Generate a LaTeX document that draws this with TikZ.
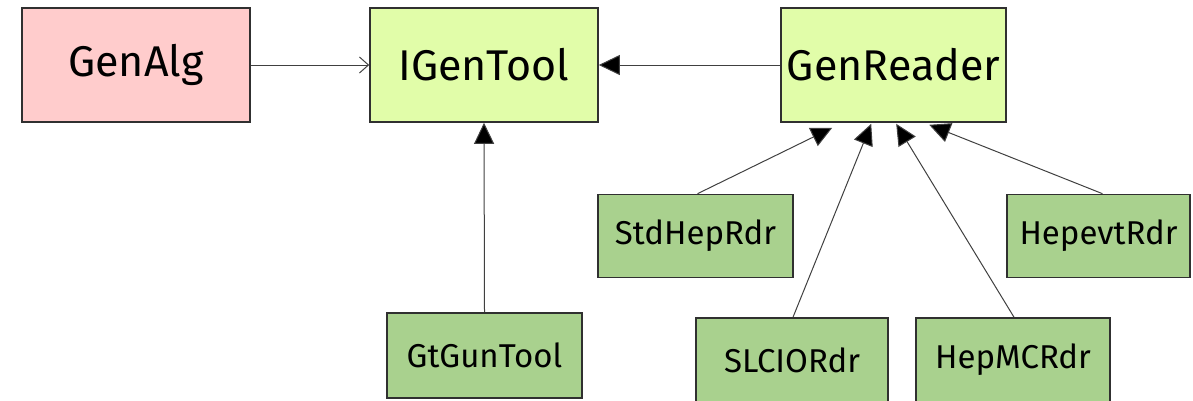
\documentclass[tikz,border=0pt]{standalone}
\usepackage{fontspec}
\setmainfont{Fira Sans}
\usetikzlibrary{arrows.meta}
\definecolor{pinkfill}{HTML}{FFCCCC}
\definecolor{limefill}{HTML}{E1FDA9}
\definecolor{greenfill}{HTML}{A9D18E}
\definecolor{boxline}{HTML}{303030}
\definecolor{conline}{HTML}{404040}
\tikzset{
  bigbox/.style={draw=boxline, line width=1.6pt, minimum width=228pt, minimum height=114pt, inner sep=0pt, text width=220pt, align=center, font=\fontsize{43}{50}\selectfont},
  smallbox/.style={draw=boxline, line width=1.6pt, fill=greenfill, minimum width=195pt, minimum height=83pt, inner sep=0pt, font=\fontsize{33}{39}\selectfont},
  conn/.style={draw=conline, line width=1pt},
  inherit/.style={conn, -{Triangle[length=21pt,width=20pt,fill=black]}},
  uses/.style={conn, -{Straight Barb[length=9pt,width=16pt,line width=1pt]}}
}
\begin{document}
\begin{tikzpicture}[x=1pt,y=-1pt]
\useasboundingbox (0,0) rectangle (1193,400);
\node[bigbox, fill=pinkfill] (alg) at (136,65) {GenAlg};
\node[bigbox, fill=limefill] (tool) at (484,65) {IGenTool};
\node[bigbox, fill=limefill, minimum width=225pt, text width=217pt] (gr) at (893.5,65) {GenReader};
\node[smallbox] (std) at (695.5,236) {StdHepRdr};
\node[smallbox, minimum width=183pt] (hepevt) at (1098.5,236) {HepevtRdr};
\node[smallbox, minimum width=192pt, minimum height=84pt] (slcio) at (792,360) {SLCIORdr};
\node[smallbox, minimum width=194pt, minimum height=84pt] (hepmc) at (1013,360) {HepMCRdr};
\node[smallbox, minimum height=85pt] (gun) at (484.5,355.5) {GtGunTool};
\draw[uses] (alg.east) -- (tool.west);
\draw[inherit] (gr.west) -- (tool.east);
\draw[inherit] (gun.north) -- (tool.south);
\draw[inherit] ([xshift=2pt]std.north) -- ([xshift=52pt,yshift=-5pt]gr.south west);
\draw[inherit] ([xshift=1pt]slcio.north) -- ([xshift=91pt,yshift=-1pt]gr.south west);
\draw[inherit] ([xshift=1pt]hepmc.north) -- ([xshift=116pt,yshift=-1pt]gr.south west);
\draw[inherit] ([xshift=4pt]hepevt.north) -- ([xshift=149pt,yshift=-2pt]gr.south west);
\end{tikzpicture}
\end{document}
